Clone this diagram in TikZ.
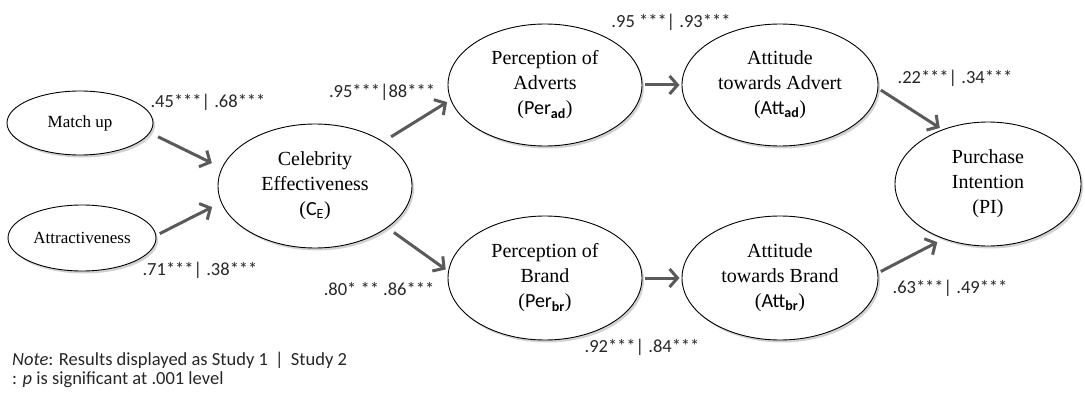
\documentclass[tikz,border=0pt]{standalone}
\usepackage{fontspec}
\setmainfont{Liberation Serif}
\newfontfamily\calib{Carlito}
\usetikzlibrary{arrows.meta,shapes.geometric,shadows}
\definecolor{arrowgray}{HTML}{5A5A5A}
\definecolor{coeftext}{HTML}{262626}

\begin{document}
\begin{tikzpicture}[x=1pt,y=-1pt,
  latent/.style={ellipse, draw=black, line width=0.9pt, fill=white, inner sep=0pt,
    drop shadow={shadow xshift=2pt, shadow yshift=-2.5pt, opacity=0.25, fill=black!70},
    align=center, font=\fontsize{20}{25}\selectfont},
  smalllatent/.style={latent, font=\fontsize{17}{20}\selectfont},
  pathline/.style={draw=arrowgray, line width=3pt,
    -{Straight Barb[length=8pt,width=18pt]}},
  coef/.style={font=\calib\fontsize{18.5}{22}\selectfont, text=coeftext, inner sep=0pt},
]
\useasboundingbox (0,0) rectangle (1085,396);

% latent constructs
\node[smalllatent, minimum width=146pt, minimum height=64pt] (match) at (80,123) {Match up};
\node[smalllatent, minimum width=148pt, minimum height=66pt] (attr) at (82,238) {Attractiveness};
\node[latent, minimum width=194pt, minimum height=124pt] (ce) at (315,186)
  {Celebrity\\Effectiveness\\({\calib C\textsubscript{E}})};
\node[latent, minimum width=194pt, minimum height=122pt] (perad) at (545,85)
  {Perception of\\Adverts\\({\calib Per\textsubscript{\textbf{ad}}})};
\node[latent, minimum width=196pt, minimum height=122pt] (attad) at (780,85)
  {Attitude\\towards Advert\\({\calib Att\textsubscript{\textbf{ad}}})};
\node[latent, minimum width=194pt, minimum height=124pt] (perbr) at (545,278)
  {Perception of\\Brand\\({\calib Per\textsubscript{\textbf{br}}})};
\node[latent, minimum width=196pt, minimum height=124pt] (attbr) at (780,278)
  {Attitude\\towards Brand\\({\calib Att\textsubscript{\textbf{br}}})};
\node[latent, minimum width=186pt, minimum height=124pt] (pi) at (988,184)
  {Purchase\\Intention\\(PI)};

% structural paths
\draw[pathline, shorten <=9pt, shorten >=11pt] (match.-8) -- (ce.169);
\draw[pathline, shorten <=4pt, shorten >=10pt] (attr.2) -- (ce.-170);
\draw[pathline, shorten <=9pt, shorten >=4pt] (ce.33) -- (perad.-171);
\draw[pathline, shorten <=8pt, shorten >=3pt] (ce.-30) -- (perbr.176);
\draw[pathline, shorten <=3pt, shorten >=2pt] (perad.east) -- (attad.west);
\draw[pathline, shorten <=3pt, shorten >=2pt] (perbr.east) -- (attbr.west);
\draw[pathline, shorten <=3pt, shorten >=3pt] (attad.-2) -- (pi.130);
\draw[pathline, shorten <=3pt, shorten >=7pt] (attbr.3) -- (pi.-129);

% path coefficients (Study 1 | Study 2)
\node[coef] (c45) at (208,102) {.45***| .68***};
\node[coef] (c71) at (200,270) {.71***| .38***};
\node[coef] (c95a) at (382,92) {.95***|88***};
\node[coef] (c80) at (379,289) {.80* ** .86***};
\node[coef] (c95b) at (671,22) {.95 ***| .93***};
\node[coef] (c92) at (642,347) {.92***| .84***};
\node[coef] (c22) at (955,78) {.22***| .34***};
\node[coef] (c63) at (950,288) {.63***| .49***};

% footnote
\node[coef, anchor=north west, align=left, font=\calib\fontsize{18.5}{19}\selectfont]
  (note) at (12,352) {\textit{Note}: Results displayed as Study 1 \,|\, Study 2\\: \textit{p} is significant at .001 level};
\end{tikzpicture}
\end{document}
